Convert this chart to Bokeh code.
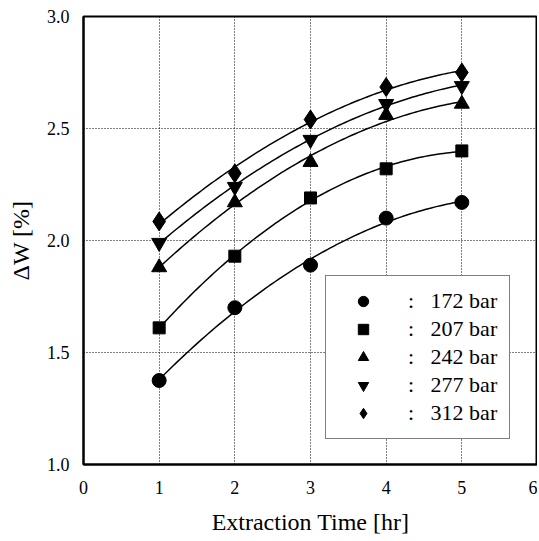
import numpy as np
from bokeh.plotting import figure
from bokeh.models import Range1d, FixedTicker, NumeralTickFormatter, Legend, LegendItem
from bokeh.embed import file_html
from bokeh.resources import INLINE

time_hr = [1, 2, 3, 4, 5]
pressures = ["172 bar", "207 bar", "242 bar", "277 bar", "312 bar"]
dw_172 = [1.375, 1.70, 1.89, 2.10, 2.17]
dw_207 = [1.61, 1.93, 2.19, 2.32, 2.40]
dw_242 = [1.88, 2.17, 2.35, 2.56, 2.61]
dw_277 = [1.99, 2.24, 2.45, 2.61, 2.69]
dw_312 = [2.085, 2.30, 2.54, 2.685, 2.75]
x_ticks = [0, 1, 2, 3, 4, 5, 6]
y_ticks = [1.0, 1.5, 2.0, 2.5, 3.0]

series = [dw_172, dw_207, dw_242, dw_277, dw_312]
markers = ["circle", "square", "triangle", "inverted_triangle", "diamond"]
sizes = [14, 12, 15, 15, 19]

SERIF = "Liberation Serif"

p = figure(width=537, height=537, output_backend="svg", toolbar_location=None,
           x_range=Range1d(0, 6), y_range=Range1d(1.0, 3.0),
           min_border_left=83, min_border_right=0, min_border_top=16, min_border_bottom=68)

p.background_fill_color = "white"
p.border_fill_color = "white"
p.outline_line_color = "black"
p.outline_line_width = 2

p.xaxis.major_tick_line_color = None
p.yaxis.major_tick_line_color = None
p.xaxis.minor_tick_line_color = None
p.yaxis.minor_tick_line_color = None
p.xaxis.axis_line_color = "black"
p.yaxis.axis_line_color = "black"
p.xaxis.axis_line_width = 2
p.yaxis.axis_line_width = 2
p.xaxis.major_label_text_font = SERIF
p.yaxis.major_label_text_font = SERIF
p.xaxis.major_label_text_font_size = "18px"
p.yaxis.major_label_text_font_size = "18px"
p.xaxis.major_label_text_color = "black"
p.yaxis.major_label_text_color = "black"
p.xaxis.axis_label_text_font = SERIF
p.yaxis.axis_label_text_font = SERIF
p.xaxis.axis_label_text_font_size = "24px"
p.yaxis.axis_label_text_font_size = "24px"
p.xaxis.axis_label_text_font_style = "normal"
p.yaxis.axis_label_text_font_style = "normal"
p.xaxis.axis_label_text_color = "black"
p.yaxis.axis_label_text_color = "black"
p.xaxis.major_label_standoff = 10
p.yaxis.major_label_standoff = 8
p.xaxis.axis_label_standoff = 12
p.yaxis.axis_label_standoff = 10

p.xaxis.ticker = FixedTicker(ticks=x_ticks)
p.yaxis.ticker = FixedTicker(ticks=y_ticks)
p.yaxis.formatter = NumeralTickFormatter(format="0.0")
p.xaxis.axis_label = "Extraction Time [hr]"
p.yaxis.axis_label = "ΔW [%]"

for g in (p.xgrid[0], p.ygrid[0]):
    g.grid_line_color = "black"
    g.grid_line_width = 1
    g.grid_line_dash = "1 2"
p.xgrid.ticker = FixedTicker(ticks=x_ticks)
p.ygrid.ticker = FixedTicker(ticks=y_ticks)

items = []
xs = np.array(time_hr, dtype=float)
xf = np.linspace(xs.min(), xs.max(), 100)
for vals, mk, sz, lab in zip(series, markers, sizes, pressures):
    coef = np.polyfit(xs, vals, 2)
    p.line(xf, np.polyval(coef, xf), line_color="black", line_width=1.5)
    r = p.scatter(time_hr, vals, marker=mk, size=sz, fill_color="black", line_color="black")
    items.append(LegendItem(label=":\u00a0\u00a0\u00a0" + lab, renderers=[r]))

legend = Legend(items=items, location=(242, 25), orientation="vertical")
legend.border_line_color = "black"
legend.border_line_width = 1.5
legend.background_fill_color = "white"
legend.background_fill_alpha = 1
legend.label_text_font = SERIF
legend.label_text_font_size = "22px"
legend.label_text_color = "black"
legend.label_height = 26
legend.glyph_height = 26
legend.glyph_width = 50
legend.spacing = 2
legend.padding = 12
legend.margin = 0
legend.label_standoff = 20
p.add_layout(legend, "center")

open("out.html", "w").write(file_html(p, INLINE))
